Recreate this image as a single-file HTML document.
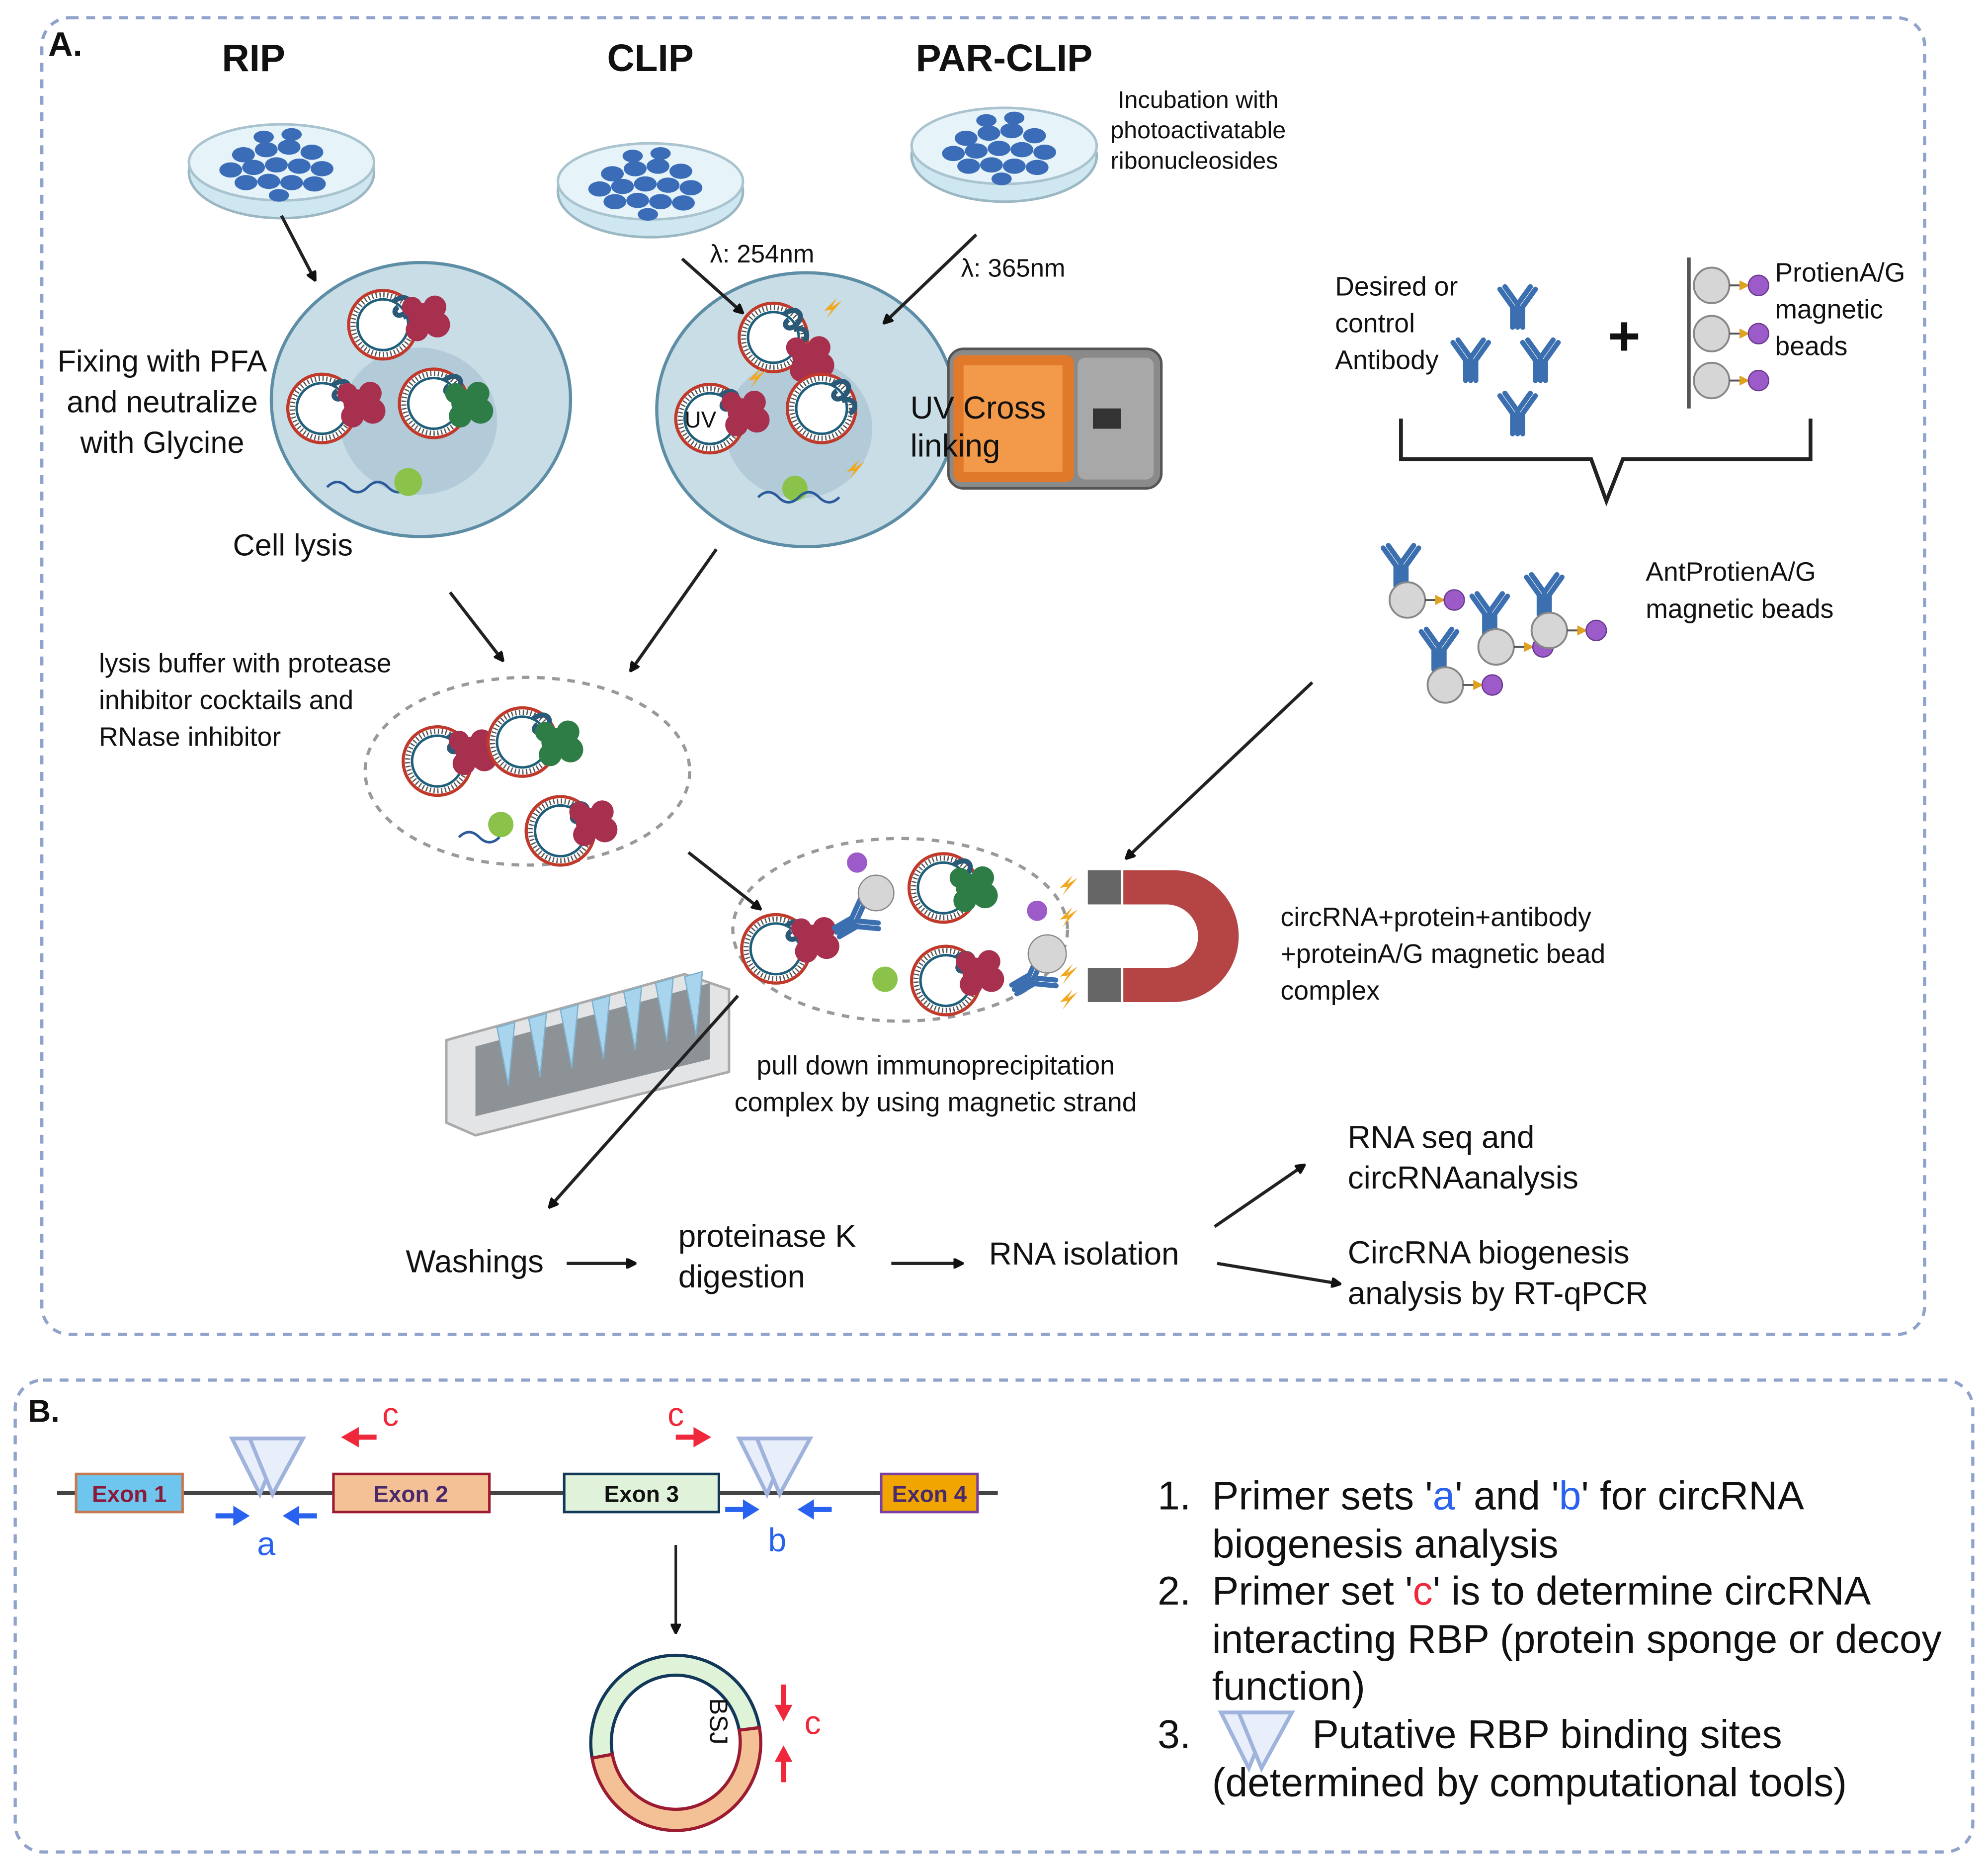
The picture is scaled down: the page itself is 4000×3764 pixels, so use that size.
<!DOCTYPE html>
<html><head><meta charset="utf-8"><style>
html,body{margin:0;padding:0;background:#fff}
svg{display:block}
text{font-family:"Liberation Sans",sans-serif;fill:#111}
</style></head><body>
<svg width="4000" height="3764" viewBox="0 0 1568 1475" preserveAspectRatio="none" xmlns="http://www.w3.org/2000/svg">
<defs>
<marker id="ah" markerWidth="8" markerHeight="8" refX="6" refY="4" orient="auto" markerUnits="userSpaceOnUse"><path d="M0,0 L8,4 L0,8 z" fill="#111" transform="scale(1.6) translate(-2,-1.5)"/></marker>
<g id="dish">
<ellipse cx="0" cy="8" rx="73" ry="36" fill="#cfe7f0" stroke="#9bb7c4" stroke-width="2"/>
<ellipse cx="0" cy="0" rx="73" ry="30" fill="#e6f3f8" stroke="#a9c3cf" stroke-width="2"/>
<g fill="#3a6cb8">
<ellipse cx="-30" cy="-6" rx="9" ry="6"/><ellipse cx="-12" cy="-10" rx="9" ry="6"/><ellipse cx="6" cy="-12" rx="9" ry="6"/><ellipse cx="24" cy="-8" rx="9" ry="6"/>
<ellipse cx="-40" cy="6" rx="9" ry="6"/><ellipse cx="-22" cy="4" rx="9" ry="6"/><ellipse cx="-4" cy="2" rx="9" ry="6"/><ellipse cx="14" cy="3" rx="9" ry="6"/><ellipse cx="32" cy="5" rx="9" ry="6"/>
<ellipse cx="-28" cy="16" rx="9" ry="6"/><ellipse cx="-10" cy="15" rx="9" ry="6"/><ellipse cx="8" cy="16" rx="9" ry="6"/><ellipse cx="26" cy="17" rx="9" ry="6"/>
<ellipse cx="-14" cy="-20" rx="8" ry="5"/><ellipse cx="8" cy="-22" rx="8" ry="5"/><ellipse cx="-2" cy="26" rx="8" ry="5"/>
</g></g>
<g id="circ">
<circle r="27" fill="#fff" stroke="#c0392b" stroke-width="2.5"/>
<circle r="23.5" fill="none" stroke="#555" stroke-width="4" stroke-dasharray="1 2"/>
<circle r="20" fill="#fff" stroke="#1f5f7a" stroke-width="2"/>
<path d="M8,-18 c10,-8 18,0 10,8 c-6,6 -12,0 -6,-4 M16,-6 c10,-4 14,6 6,10" fill="none" stroke="#2a5a78" stroke-width="4"/>
</g>
<g id="protR" fill="#a8304f"><circle cx="0" cy="0" r="11"/><circle cx="10" cy="-8" r="9"/><circle cx="12" cy="6" r="10"/><circle cx="-4" cy="10" r="9"/><circle cx="-8" cy="-8" r="8"/></g>
<g id="protG" fill="#2f7d46"><circle cx="0" cy="0" r="11"/><circle cx="10" cy="-8" r="9"/><circle cx="12" cy="6" r="10"/><circle cx="-4" cy="10" r="9"/><circle cx="-8" cy="-8" r="8"/></g>
<g id="ab" fill="none" stroke="#3b6fb0" stroke-width="4" stroke-linecap="round"><path d="M0,0 L0,-18 M0,-18 L-10,-32 M0,-18 L10,-32 M-4,0 L-4,-16 L-14,-30 M4,0 L4,-16 L14,-30"/></g>
<g id="bead"><circle r="14" fill="#d6d6d6" stroke="#888" stroke-width="1.5"/><path d="M14,0 L28,0" stroke="#555" stroke-width="1.5"/><path d="M22,-4 L30,0 L22,4z" fill="#e0a020"/><circle cx="37" cy="0" r="8" fill="#9c5bc8" stroke="#6a3a90"/></g>
<g id="bolt"><path d="M0,0 L10,-10 L6,-3 L14,-8 L2,6 L6,-1z" fill="#f0a820"/></g>
<g id="tri"><path d="M0,0 L40,0 L22,44 z" fill="#e9effa" stroke="#9fb3dd" stroke-width="3"/><path d="M14,0 L56,0 L32,44 z" fill="#e9effa" stroke="#9fb3dd" stroke-width="3"/></g>
</defs>

<rect x="33" y="14" width="1485" height="1038" rx="22" fill="none" stroke="#8fa3cc" stroke-width="2.5" stroke-dasharray="7 6"/>
<rect x="12" y="1088" width="1544" height="372" rx="22" fill="none" stroke="#8fa3cc" stroke-width="2.5" stroke-dasharray="7 6"/>

<text x="38" y="44" font-size="27" font-weight="bold">A.</text>
<text x="200" y="56" font-size="30" font-weight="bold" text-anchor="middle">RIP</text>
<text x="513" y="56" font-size="30" font-weight="bold" text-anchor="middle">CLIP</text>
<text x="792" y="56" font-size="30" font-weight="bold" text-anchor="middle">PAR-CLIP</text>

<use href="#dish" x="222" y="128"/>
<use href="#dish" x="513" y="143"/>
<use href="#dish" x="792" y="115"/>

<text font-size="19" text-anchor="middle"><tspan x="945" y="85">Incubation with</tspan><tspan x="945" y="109">photoactivatable</tspan><tspan x="942" y="133">ribonucleosides</tspan></text>
<text x="560" y="207" font-size="20">λ: 254nm</text>
<text x="758" y="218" font-size="20">λ: 365nm</text>

<ellipse cx="332" cy="315" rx="118" ry="108" fill="#c9dde6" stroke="#5e8ea6" stroke-width="2.5"/>
<ellipse cx="330" cy="332" rx="62" ry="58" fill="#b3cbd8"/>
<use href="#circ" x="302" y="256"/><use href="#protR" x="333" y="250"/>
<use href="#circ" x="254" y="322"/><use href="#protR" x="282" y="318"/>
<use href="#circ" x="342" y="318"/><use href="#protG" x="367" y="318"/>
<path d="M258,384 q8,-8 16,0 t16,0 t16,0 t16,0" fill="none" stroke="#2a5a9a" stroke-width="2"/>
<circle cx="322" cy="380" r="11" fill="#8bc34a"/>
<text font-size="24" text-anchor="middle"><tspan x="128" y="293">Fixing with PFA</tspan><tspan x="128" y="325">and neutralize</tspan><tspan x="128" y="357">with Glycine</tspan></text>
<text x="231" y="438" font-size="24" text-anchor="middle">Cell lysis</text>

<ellipse cx="636" cy="323" rx="118" ry="108" fill="#c9dde6" stroke="#5e8ea6" stroke-width="2.5"/>
<ellipse cx="630" cy="338" rx="58" ry="55" fill="#b3cbd8"/>
<use href="#circ" x="610" y="266"/><use href="#protR" x="636" y="282"/>
<use href="#circ" x="560" y="330"/><use href="#protR" x="585" y="325"/>
<use href="#circ" x="648" y="322"/>
<circle cx="627" cy="385" r="10" fill="#8bc34a"/>
<path d="M598,392 q8,-8 16,0 t16,0 t16,0 t16,0" fill="none" stroke="#2a5a9a" stroke-width="2"/>
<use href="#bolt" x="650" y="245"/><use href="#bolt" x="590" y="300"/><use href="#bolt" x="668" y="372"/>
<text x="540" y="337" font-size="18">UV</text>
<rect x="748" y="275" width="168" height="110" rx="12" fill="#8a8a8a" stroke="#555" stroke-width="2"/>
<rect x="752" y="280" width="95" height="100" rx="6" fill="#e07a2a"/>
<rect x="760" y="288" width="78" height="84" fill="#f29a4a"/>
<rect x="850" y="282" width="60" height="96" rx="6" fill="#a8a8a8"/>
<rect x="862" y="322" width="22" height="16" fill="#333"/>
<text font-size="25"><tspan x="718" y="330">UV Cross</tspan><tspan x="718" y="360">linking</tspan></text>

<text font-size="21"><tspan x="1053" y="233">Desired or</tspan><tspan x="1053" y="262">control</tspan><tspan x="1053" y="291">Antibody</tspan></text>
<use href="#ab" x="1197" y="258"/><use href="#ab" x="1215" y="300"/><use href="#ab" x="1160" y="300"/><use href="#ab" x="1197" y="342"/>
<text x="1281" y="280" font-size="44" font-weight="bold" text-anchor="middle">+</text>
<line x1="1332" y1="203" x2="1332" y2="322" stroke="#555" stroke-width="3"/>
<use href="#bead" x="1350" y="225"/><use href="#bead" x="1350" y="263"/><use href="#bead" x="1350" y="300"/>
<text font-size="21"><tspan x="1400" y="222">ProtienA/G</tspan><tspan x="1400" y="251">magnetic</tspan><tspan x="1400" y="280">beads</tspan></text>
<path d="M1105,330 L1105,362 L1255,362 L1267,395 L1280,362 L1428,362 L1428,330" fill="none" stroke="#222" stroke-width="3"/>
<use href="#ab" x="1105" y="462"/><use href="#bead" x="1110" y="473"/>
<use href="#ab" x="1175" y="500"/><use href="#bead" x="1180" y="510"/>
<use href="#ab" x="1218" y="485"/><use href="#bead" x="1222" y="497"/>
<use href="#ab" x="1135" y="528"/><use href="#bead" x="1140" y="540"/>
<text font-size="21"><tspan x="1298" y="458">AntProtienA/G</tspan><tspan x="1298" y="487">magnetic beads</tspan></text>

<text font-size="21"><tspan x="78" y="530">lysis buffer with protease</tspan><tspan x="78" y="559">inhibitor cocktails and</tspan><tspan x="78" y="588">RNase inhibitor</tspan></text>
<ellipse cx="416" cy="608" rx="128" ry="74" fill="none" stroke="#999" stroke-width="2.5" stroke-dasharray="6 6"/>
<use href="#circ" x="345" y="600"/><use href="#protR" x="370" y="592"/>
<use href="#circ" x="412" y="585"/><use href="#protG" x="438" y="585"/>
<use href="#circ" x="442" y="655"/><use href="#protR" x="465" y="648"/>
<circle cx="395" cy="650" r="10" fill="#8bc34a"/>
<path d="M362,660 q8,-8 16,0 t16,0" fill="none" stroke="#2a5a9a" stroke-width="2"/>

<ellipse cx="710" cy="733" rx="132" ry="72" fill="none" stroke="#999" stroke-width="2.5" stroke-dasharray="6 6"/>
<use href="#circ" x="612" y="748"/><use href="#protR" x="640" y="740"/>
<use href="#circ" x="744" y="700"/><use href="#protG" x="765" y="700"/>
<use href="#circ" x="746" y="773"/><use href="#protR" x="770" y="766"/>
<circle cx="698" cy="772" r="10" fill="#8bc34a"/>
<use href="#ab" x="660" y="735" transform="rotate(60 660 735)"/>
<circle cx="691" cy="704" r="14" fill="#d6d6d6" stroke="#888"/><circle cx="676" cy="680" r="8" fill="#9c5bc8"/>
<use href="#ab" x="800" y="780" transform="rotate(60 800 780)"/>
<circle cx="826" cy="752" r="15" fill="#d6d6d6" stroke="#888"/><circle cx="818" cy="718" r="8" fill="#9c5bc8"/>
<use href="#bolt" x="836" y="700"/><use href="#bolt" x="836" y="725"/><use href="#bolt" x="836" y="770"/><use href="#bolt" x="836" y="790"/>
<path d="M886,686 L925,686 A52,52 0 0 1 925,790 L886,790 L886,763 L920,763 A25,25 0 0 0 920,713 L886,713 Z" fill="#b54444"/>
<rect x="858" y="686" width="26" height="27" fill="#666"/><rect x="858" y="763" width="26" height="27" fill="#666"/>
<text font-size="21"><tspan x="1010" y="730">circRNA+protein+antibody</tspan><tspan x="1010" y="759">+proteinA/G magnetic bead</tspan><tspan x="1010" y="788">complex</tspan></text>
<text font-size="21" text-anchor="middle"><tspan x="738" y="847">pull down immunoprecipitation</tspan><tspan x="738" y="876">complex by using magnetic strand</tspan></text>

<path d="M352,820 L540,768 L575,780 L575,845 L375,895 L352,885 Z" fill="#e2e4e6" stroke="#aaa" stroke-width="2"/>
<path d="M375,825 L560,775 L560,835 L375,880 Z" fill="#8d9296"/>
<g fill="#a8d4ee" stroke="#7fb0cc">
<path d="M392,810 l14,-4 l-5,50 z"/><path d="M417,803 l14,-4 l-5,50 z"/><path d="M442,796 l14,-4 l-5,50 z"/><path d="M467,789 l14,-4 l-5,50 z"/><path d="M492,782 l14,-4 l-5,50 z"/><path d="M517,775 l14,-4 l-5,50 z"/><path d="M540,770 l14,-4 l-5,50 z"/>
</g>

<text x="320" y="1003" font-size="25">Washings</text>
<text font-size="25"><tspan x="535" y="983">proteinase K</tspan><tspan x="535" y="1015">digestion</tspan></text>
<text x="780" y="997" font-size="25">RNA isolation</text>
<text font-size="25"><tspan x="1063" y="905">RNA seq and</tspan><tspan x="1063" y="937">circRNAanalysis</tspan></text>
<text font-size="25"><tspan x="1063" y="996">CircRNA biogenesis</tspan><tspan x="1063" y="1028">analysis  by RT-qPCR</tspan></text>

<g stroke="#222" stroke-width="2.5" marker-end="url(#ah)">
<line x1="222" y1="170" x2="248" y2="220"/>
<line x1="538" y1="204" x2="585" y2="246"/>
<line x1="770" y1="185" x2="698" y2="254"/>
<line x1="355" y1="467" x2="396" y2="520"/>
<line x1="565" y1="433" x2="498" y2="528"/>
<line x1="1035" y1="538" x2="889" y2="676"/>
<line x1="543" y1="672" x2="599" y2="716"/>
<line x1="582" y1="785" x2="434" y2="951"/>
<line x1="447" y1="996" x2="500" y2="996"/>
<line x1="703" y1="996" x2="758" y2="996"/>
<line x1="958" y1="967" x2="1028" y2="919"/>
<line x1="960" y1="996" x2="1056" y2="1012"/>
</g>

<text x="22" y="1121" font-size="25" font-weight="bold">B.</text>
<line x1="45" y1="1177" x2="787" y2="1177" stroke="#444" stroke-width="3.5"/>
<use href="#tri" x="183" y="1134"/>
<use href="#tri" x="583" y="1134"/>
<rect x="60" y="1162" width="84" height="30" fill="#6ec6ee" stroke="#c87850" stroke-width="2"/>
<text x="102" y="1184" font-size="18" font-weight="bold" text-anchor="middle" style="fill:#8b1a3a">Exon 1</text>
<rect x="263" y="1162" width="123" height="30" fill="#f4c096" stroke="#9b1b30" stroke-width="2"/>
<text x="324" y="1184" font-size="18" font-weight="bold" text-anchor="middle" style="fill:#4a2a6a">Exon 2</text>
<rect x="445" y="1162" width="122" height="30" fill="#e0f3da" stroke="#12385a" stroke-width="2"/>
<text x="506" y="1184" font-size="18" font-weight="bold" text-anchor="middle">Exon 3</text>
<rect x="695" y="1162" width="76" height="30" fill="#f0a500" stroke="#7a3fa0" stroke-width="2"/>
<text x="733" y="1184" font-size="18" font-weight="bold" text-anchor="middle" style="fill:#4a2a6a">Exon 4</text>
<g fill="#2a62f0">
<path d="M170,1193 h14 v-6 l13,8 l-13,8 v-6 h-14z"/><path d="M250,1193 h-14 v-6 l-13,8 l13,8 v-6 h14z"/>
<path d="M572,1188 h14 v-6 l13,8 l-13,8 v-6 h-14z"/><path d="M656,1188 h-14 v-6 l-13,8 l13,8 v-6 h14z"/>
</g>
<text x="210" y="1226" font-size="26" text-anchor="middle" style="fill:#2a62f0">a</text>
<text x="613" y="1223" font-size="26" text-anchor="middle" style="fill:#2a62f0">b</text>
<g fill="#f0283c">
<path d="M297,1131 h-14 v-6 l-14,8 l14,8 v-6 h14z"/><path d="M533,1131 h14 v-6 l14,8 l-14,8 v-6 h-14z"/>
<path d="M616,1328 h4 v16 h5 l-7,13 l-7,-13 h5z"/><path d="M616,1405 h4 v-16 h5 l-7,-13 l-7,13 h5z"/>
</g>
<text x="308" y="1124" font-size="26" text-anchor="middle" style="fill:#f0283c">c</text>
<text x="533" y="1124" font-size="26" text-anchor="middle" style="fill:#f0283c">c</text>
<text x="641" y="1367" font-size="26" text-anchor="middle" style="fill:#f0283c">c</text>
<line x1="533" y1="1218" x2="533" y2="1286" stroke="#222" stroke-width="2" marker-end="url(#ah)"/>
<path d="M467,1386 A66,68 0 1 1 599,1362 L583,1364 A50,52 0 1 0 483,1383 Z" fill="#dff3d8" stroke="#12385a" stroke-width="2.5"/>
<path d="M467,1386 A66,68 0 0 0 599,1362 L583,1364 A50,52 0 0 1 483,1383 Z" fill="#f4c096" stroke="#9b1b30" stroke-width="2.5"/>
<text x="555" y="1362" font-size="20" text-anchor="middle" transform="rotate(90 560 1362)">BSJ</text>

<text font-size="31.5">
<tspan x="913" y="1190">1.</tspan><tspan x="956" y="1190">Primer sets  '<tspan style="fill:#2a62f0">a</tspan>' and '<tspan style="fill:#2a62f0">b</tspan>' for circRNA</tspan>
<tspan x="956" y="1228">biogenesis analysis</tspan>
<tspan x="913" y="1265">2.</tspan><tspan x="956" y="1265">Primer set  '<tspan style="fill:#f0283c">c</tspan>' is to determine circRNA</tspan>
<tspan x="956" y="1303">interacting RBP (protein sponge or decoy</tspan>
<tspan x="956" y="1340">function)</tspan>
<tspan x="913" y="1378">3.</tspan><tspan x="1035" y="1378">Putative RBP binding sites</tspan>
<tspan x="956" y="1416">(determined by computational tools)</tspan>
</text>
<use href="#tri" x="963" y="1350"/>
</svg>
</body></html>
